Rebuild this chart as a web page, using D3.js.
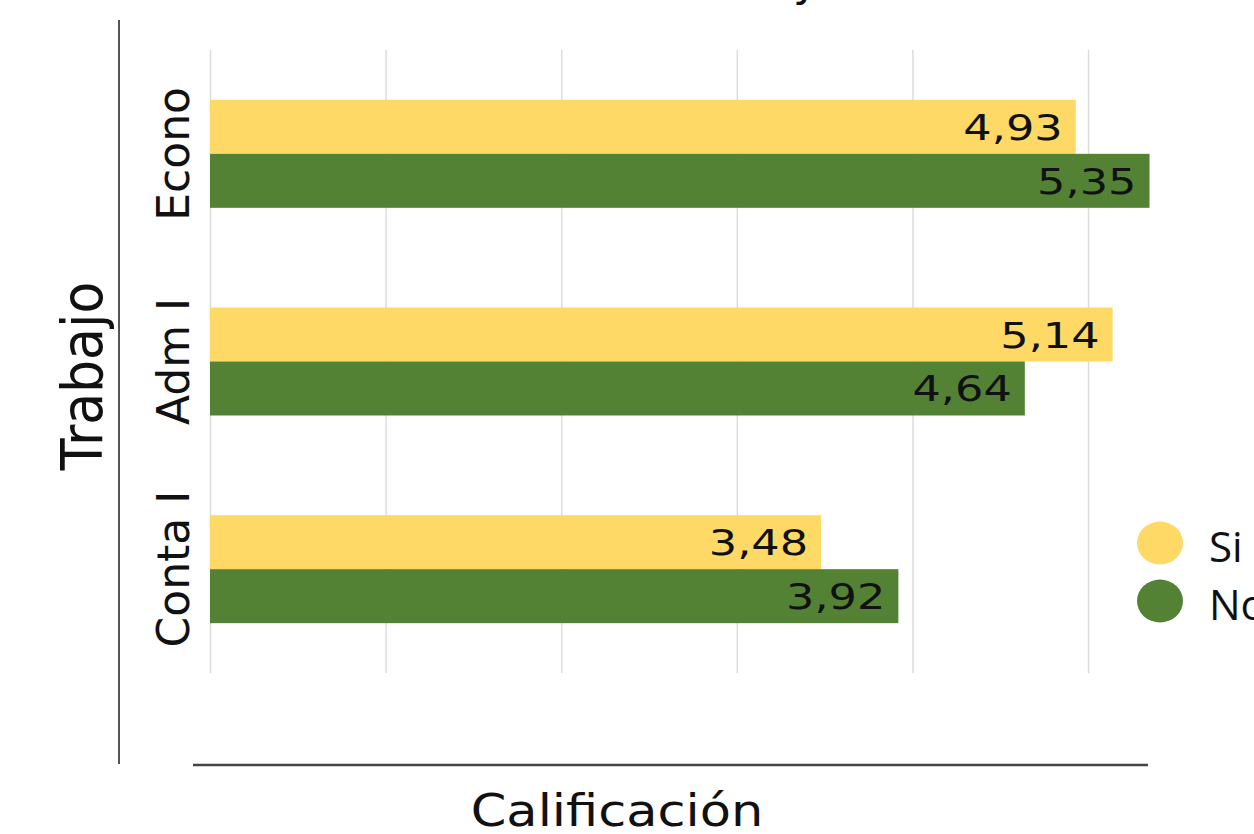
<!DOCTYPE html>
<html>
<head>
<meta charset="utf-8">
<script src="https://cdn.jsdelivr.net/npm/d3@7"></script>
<style>
  html, body { margin: 0; padding: 0; background: #ffffff; overflow: hidden; }
  svg { display: block; }
</style>
</head>
<body>
<svg id="chart" width="1254" height="834"></svg>
<script>
// ---- data ----
const categories = ["Econo", "Adm I", "Conta I"];
const seriesNames = ["Si", "No"];
const siValues = [4.93, 5.14, 3.48];
const noValues = [5.35, 4.64, 3.92];
const xTicks = [0, 1, 2, 3, 4, 5];
const titleText = "Calificación y Situación Laboral";
const xTitle = "Calificación";
const yTitle = "Trabajo";

const colors = { "Si": "#FFD966", "No": "#548235" };

const rows = categories.map((c, i) => ({ cat: c, Si: siValues[i], No: noValues[i] }));

const svg = d3.select("#chart");
const plot = { left: 210, right: 1149.5, top: 50, bottom: 673 };

const x = d3.scaleLinear().domain([0, 5.35]).range([plot.left, plot.right]);
const y = d3.scaleBand().domain(categories).range([plot.top, plot.bottom])
  .paddingInner(0.48).paddingOuter(0.24);
const ySub = d3.scaleBand().domain(seriesNames).range([0, y.bandwidth()]);

const locale = d3.formatLocale({ decimal: ",", thousands: ".", grouping: [3], currency: ["", "€"] });
const fmt = locale.format(".2f");

// gridlines via axis
const grid = svg.append("g")
  .attr("transform", `translate(0,${plot.bottom})`)
  .call(d3.axisBottom(x).tickValues(xTicks).tickSize(-(plot.bottom - plot.top)).tickFormat(""));
grid.select(".domain").remove();
grid.selectAll(".tick line").attr("stroke", "#dcdcdc").attr("stroke-width", 1.5);

// bars
const groups = svg.append("g").selectAll("g.cat")
  .data(rows).join("g")
  .attr("class", "cat")
  .attr("transform", d => `translate(0,${y(d.cat)})`);

groups.selectAll("rect")
  .data(d => seriesNames.map(s => ({ s, v: d[s] })))
  .join("rect")
  .attr("x", x(0))
  .attr("y", d => ySub(d.s))
  .attr("width", d => x(d.v) - x(0))
  .attr("height", ySub.bandwidth())
  .attr("fill", d => colors[d.s]);

// value labels
groups.selectAll("text.val")
  .data(d => seriesNames.map(s => ({ s, v: d[s] })))
  .join("text")
  .attr("class", "val")
  .attr("transform", d => `translate(${x(d.v) - 13},${ySub(d.s) + ySub.bandwidth() / 2 + 13}) scale(1.24,1)`)
  .attr("text-anchor", "end")
  .attr("font-family", "DejaVu Sans, Verdana, sans-serif")
  .attr("font-size", 36)
  .attr("fill", "#111")
  .text(d => fmt(d.v));

// category labels (rotated)
svg.append("g").selectAll("text.cat")
  .data(categories).join("text")
  .attr("class", "cat")
  .attr("transform", d => `translate(189,${y(d) + y.bandwidth() / 2}) scale(1.02,1) rotate(-90)`)
  .attr("text-anchor", "middle")
  .attr("font-family", "DejaVu Sans, Verdana, sans-serif")
  .attr("font-size", 44)
  .attr("fill", "#111")
  .text(d => d);

// axis lines
svg.append("line")
  .attr("x1", 119).attr("x2", 119).attr("y1", 20).attr("y2", 764)
  .attr("stroke", "#555").attr("stroke-width", 2);
svg.append("line")
  .attr("x1", 193).attr("x2", 1148).attr("y1", 765).attr("y2", 765)
  .attr("stroke", "#444").attr("stroke-width", 2.5);

// axis titles
svg.append("text")
  .attr("transform", `translate(102,376) scale(1.08,1) rotate(-90)`)
  .attr("text-anchor", "middle")
  .attr("font-family", "DejaVu Sans, Verdana, sans-serif")
  .attr("font-size", 52)
  .attr("fill", "#111")
  .text(yTitle);

svg.append("text")
  .attr("transform", `translate(617,826) scale(1.16,1)`)
  .attr("text-anchor", "middle")
  .attr("font-family", "DejaVu Sans, Verdana, sans-serif")
  .attr("font-size", 44)
  .attr("fill", "#111")
  .text(xTitle);

// legend
const leg = svg.append("g").selectAll("g.leg")
  .data(seriesNames).join("g")
  .attr("class", "leg")
  .attr("transform", (d, i) => `translate(1160,${543 + i * 58})`);
leg.append("ellipse").attr("rx", 23).attr("ry", 21.5).attr("fill", d => colors[d]);
leg.append("text")
  .attr("x", 49).attr("y", 19)
  .attr("font-family", "Open Sans, sans-serif")
  .attr("font-size", 42)
  .attr("fill", "#111")
  .text(d => d);

// title (mostly cut off above the canvas; only the descender of "y" shows)
const title = svg.append("text")
  .attr("x", 0).attr("y", -4)
  .attr("font-family", "DejaVu Sans, Verdana, sans-serif")
  .attr("font-size", 44)
  .attr("fill", "#111")
  .text(titleText);
const node = title.node();
const idx = titleText.indexOf(" y ") + 1;
const p = node.getStartPositionOfChar(idx).x;
const w = node.getExtentOfChar(idx).width;
title.attr("x", 806 - p - w / 2);
</script>
</body>
</html>
